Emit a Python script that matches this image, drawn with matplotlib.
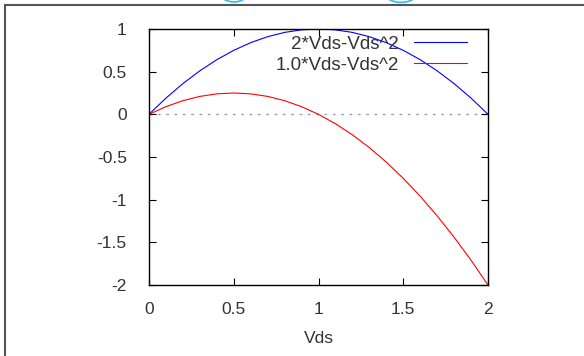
import numpy as np
import matplotlib.pyplot as plt
from matplotlib.lines import Line2D
from matplotlib.patches import Circle

# values
vds = [0.0, 0.1, 0.2, 0.3, 0.4, 0.5, 0.6, 0.7, 0.8, 0.9, 1.0,
       1.1, 1.2, 1.3, 1.4, 1.5, 1.6, 1.7, 1.8, 1.9, 2.0]
curve_2 = [0.0, 0.19, 0.36, 0.51, 0.64, 0.75, 0.84, 0.91, 0.96, 0.99, 1.0,
           0.99, 0.96, 0.91, 0.84, 0.75, 0.64, 0.51, 0.36, 0.19, 0.0]
curve_1 = [0.0, 0.09, 0.16, 0.21, 0.24, 0.25, 0.24, 0.21, 0.16, 0.09, 0.0,
           -0.11, -0.24, -0.39, -0.56, -0.75, -0.96, -1.19, -1.44, -1.71, -2.0]
labels = ['2*Vds-Vds^2', '1.0*Vds-Vds^2']
x_ticks = [0, 0.5, 1, 1.5, 2]
x_ticklabels = ['0', '0.5', '1', '1.5', '2']
y_ticks = [-2, -1.5, -1, -0.5, 0, 0.5, 1]
y_ticklabels = ['-2', '-1.5', '-1', '-0.5', '0', '0.5', '1']

plt.rcParams['font.family'] = ['Liberation Sans', 'DejaVu Sans']
plt.rcParams['font.size'] = 12.5
txt = '#333333'

fig = plt.figure(figsize=(5.84, 3.56), dpi=100)
ax = fig.add_axes([149/584, 1 - 285/356, (488 - 149)/584, (285 - 29)/356])

ax.plot(vds, curve_2, color='#0000ff', lw=0.8, label=labels[0])
ax.plot(vds, curve_1, color='#ff0000', lw=0.8, label=labels[1])
ax.axhline(0, color='#a0a0a0', lw=1, ls=(0, (2, 4)), zorder=0)

ax.set_xlim(0, 2)
ax.set_ylim(-2, 1)
ax.set_xticks(x_ticks)
ax.set_xticklabels(x_ticklabels)
ax.set_yticks(y_ticks)
ax.set_yticklabels(y_ticklabels)
ax.tick_params(direction='in', length=5, width=0.8, top=True, right=True,
               colors='black', labelcolor=txt, labelsize=12.5)
ax.tick_params(axis='x', pad=12)
ax.tick_params(axis='y', pad=16)
for s in ax.spines.values():
    s.set_linewidth(1.0)
ax.set_xlabel('Vds', color=txt, labelpad=10)

leg = ax.legend(loc='upper right', bbox_to_anchor=(0.96, 1.004), frameon=False,
                markerfirst=False, handlelength=2.8, handletextpad=0.85,
                labelspacing=0.22, borderaxespad=0, fontsize=13.5)
for t in leg.get_texts():
    t.set_color(txt)

# screenshot frame and artifacts
fig.add_artist(Line2D([5/584, 1], [1 - 5/356, 1 - 5/356], color='#555555', lw=1.5))
fig.add_artist(Line2D([5/584, 5/584], [0, 1 - 5/356], color='#555555', lw=1.5))
for cx, cy, r in [(234, -6, 13), (401, -8, 17)]:
    fig.add_artist(Circle((cx/584, 1 - cy/356), r/584, transform=fig.transFigure,
                          fill=False, ec='#33bbee', lw=1.2))

fig.savefig('out.png', dpi=100)
